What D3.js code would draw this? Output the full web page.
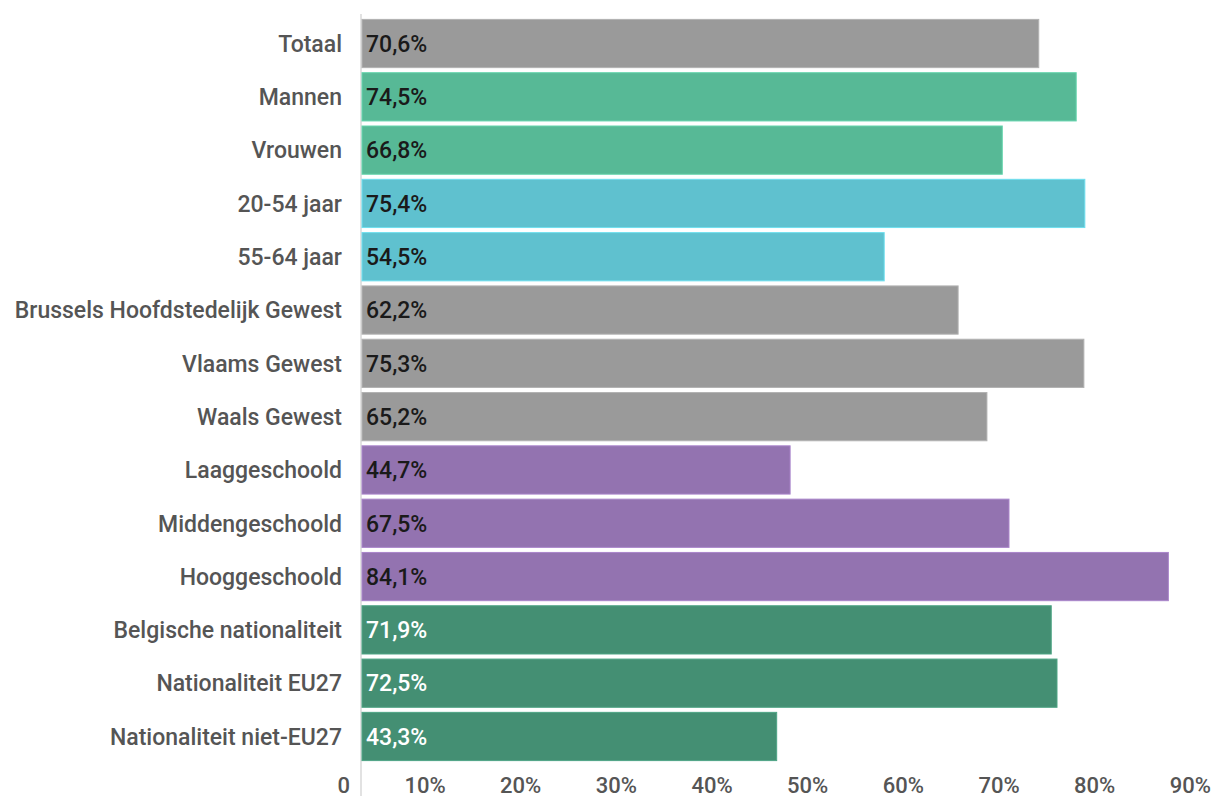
<!DOCTYPE html>
<html>
<head>
<meta charset="utf-8">
<script src="https://cdn.jsdelivr.net/npm/d3@7"></script>
<style>
  body { margin: 0; background: #fff; }
  svg { display: block; font-family: Roboto, sans-serif; }
</style>
</head>
<body>
<svg width="1216" height="796"></svg>
<script>
const categories = [
    "Totaal", "Mannen", "Vrouwen", "20-54 jaar", "55-64 jaar",
    "Brussels Hoofdstedelijk Gewest", "Vlaams Gewest", "Waals Gewest",
    "Laaggeschoold", "Middengeschoold", "Hooggeschoold",
    "Belgische nationaliteit", "Nationaliteit EU27", "Nationaliteit niet-EU27"
]
const values = [70.6, 74.5, 66.8, 75.4, 54.5, 62.2, 75.3, 65.2, 44.7, 67.5, 84.1, 71.9, 72.5, 43.3]
const groups = ["totaal", "geslacht", "geslacht", "leeftijd", "leeftijd",
    "gewest", "gewest", "gewest", "opleiding", "opleiding", "opleiding",
    "nationaliteit", "nationaliteit", "nationaliteit"]
const ticks = [0, 10, 20, 30, 40, 50, 60, 70, 80, 90]

const fill = {
    totaal: "#9a9a9a", geslacht: "#57b996", leeftijd: "#5fc1cf",
    gewest: "#9a9a9a", opleiding: "#9373b0", nationaliteit: "#448f73"
}
const labelColor = { nationaliteit: "#ffffff" }

document.addEventListener('DOMContentLoaded', () => {
    drawChart()
})

function drawChart() {
    const svg = d3.select("svg")
    const data = categories.map((c, i) => ({ name: c, value: values[i], group: groups[i] }))

    const x = d3.scaleLinear().domain([0, 90]).range([361, 1225])
    const y = d3.scaleBand().domain(categories).range([17, 763]).paddingInner(0.095).paddingOuter(0.045)
    // tick labels sit a bit left of their tick
    const xLab = d3.scaleLinear().domain([0, 90]).range([350, 1211])

    // vertical axis line
    svg.append("line")
        .attr("x1", 361).attr("x2", 361)
        .attr("y1", 14).attr("y2", 796)
        .attr("stroke", "#e2e2e2").attr("stroke-width", 2)

    svg.selectAll("rect.bar")
        .data(data)
        .enter()
        .append("rect")
        .attr("class", "bar")
        .attr("x", x(0) + 1)
        .attr("y", d => y(d.name))
        .attr("width", d => x(d.value) - x(0) - 1)
        .attr("height", y.bandwidth())
        .attr("fill", d => fill[d.group])
        .attr("stroke", d => d3.color(fill[d.group]).brighter(0.4))
        .attr("stroke-width", 1)

    // value labels inside bars
    svg.selectAll("text.val")
        .data(data)
        .enter()
        .append("text")
        .attr("class", "val")
        .attr("x", x(0) + 5)
        .attr("y", d => y(d.name) + y.bandwidth() / 2)
        .attr("dy", "0.36em")
        .attr("fill", d => labelColor[d.group] || "#1a1a1a")
        .style("font-size", "23px")
        .style("font-weight", 500)
        .text(d => d3.format(".1f")(d.value).replace(".", ",") + "%")

    // category labels
    svg.selectAll("text.cat")
        .data(data)
        .enter()
        .append("text")
        .attr("class", "cat")
        .attr("x", 342)
        .attr("y", d => y(d.name) + y.bandwidth() / 2)
        .attr("dy", "0.36em")
        .attr("text-anchor", "end")
        .attr("fill", "#555555")
        .style("font-size", "23px")
        .style("font-weight", 500)
        .text(d => d.name)

    // x tick labels
    svg.selectAll("text.tick")
        .data(ticks)
        .enter()
        .append("text")
        .attr("class", "tick")
        .attr("x", d => xLab(d))
        .attr("y", 785)
        .attr("dy", "0.36em")
        .attr("text-anchor", "end")
        .attr("fill", "#555555")
        .style("font-size", "22px")
        .style("font-weight", 500)
        .text(d => d === 0 ? "0" : d + "%")
}
</script>
</body>
</html>
